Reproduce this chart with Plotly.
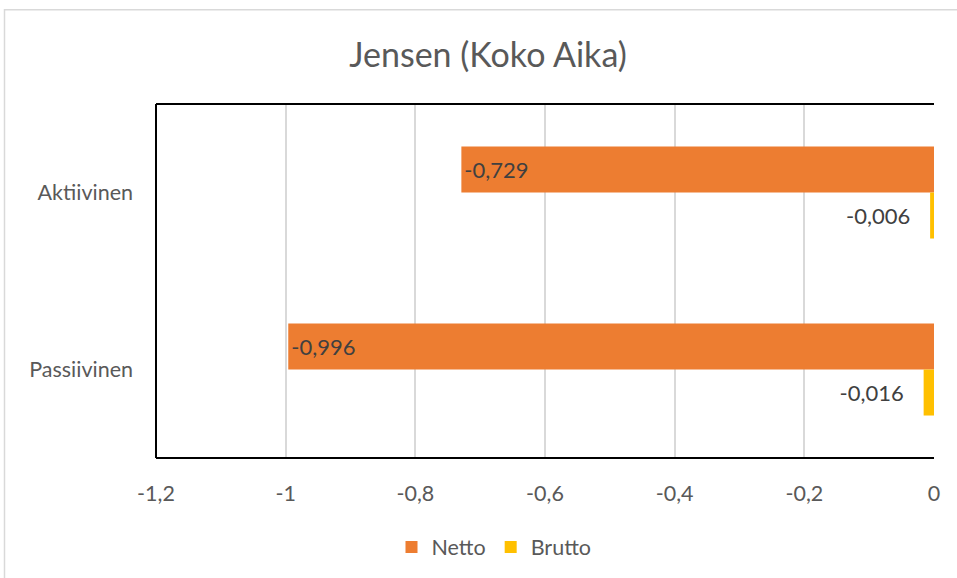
import plotly.graph_objects as go

categories = ["Aktiivinen", "Passiivinen"]
netto = [-0.729, -0.996]
brutto = [-0.006, -0.016]
tick_vals = [-1.2, -1.0, -0.8, -0.6, -0.4, -0.2, 0.0]
tick_text = ["-1,2", "-1", "-0,8", "-0,6", "-0,4", "-0,2", "0"]
title_text = "Jensen (Koko Aika)"

def fmt(v):
    return f"{v:.3f}".replace(".", ",")

FONT = "Lato"
TXT = "#595959"
LBL = "#404040"
FS = 21.5

fig = go.Figure()
fig.add_trace(go.Bar(
    y=categories, x=netto, name="Netto", orientation="h",
    marker=dict(color="#ED7D31", line=dict(width=0)),
    text=[fmt(v) for v in netto], textposition="inside", insidetextanchor="end",
    textfont=dict(family=FONT, size=22, color=LBL), cliponaxis=False,
))
fig.add_trace(go.Bar(
    y=categories, x=brutto, name="Brutto", orientation="h",
    marker=dict(color="#FFC000", line=dict(width=0)),
    text=[fmt(v) + "\u00a0\u00a0\u00a0" for v in brutto], textposition="outside",
    textfont=dict(family=FONT, size=22, color=LBL), cliponaxis=False,
))

L, R, T, B = 156, 934, 104, 459
W, H = 957, 578
pw, ph = R - L, B - T

def px_x(x):
    return (x - L) / pw

def px_y(y):
    return (B - y) / ph

shapes = [
    dict(type="rect", xref="paper", yref="paper",
         x0=px_x(4.5), x1=px_x(1000), y0=px_y(640), y1=px_y(9.5),
         line=dict(color="#D9D9D9", width=1.5), layer="below"),
    dict(type="line", xref="paper", yref="paper", x0=0, x1=1, y0=1, y1=1,
         line=dict(color="#000000", width=2)),
    dict(type="line", xref="paper", yref="paper", x0=0, x1=0, y0=0, y1=1,
         line=dict(color="#000000", width=2)),
    dict(type="line", xref="paper", yref="paper", x0=0, x1=1, y0=0, y1=0,
         line=dict(color="#000000", width=2)),
]

fig.update_layout(
    width=W, height=H,
    margin=dict(l=L, r=W - R, t=T, b=H - B),
    paper_bgcolor="white", plot_bgcolor="white",
    barmode="group", bargap=0.48, bargroupgap=0,
    title=dict(text=title_text, x=488 / W, xanchor="center", y=1 - 55 / H, yanchor="middle",
               font=dict(family=FONT, size=34, color=TXT)),
    font=dict(family=FONT, size=FS, color=TXT),
    showlegend=True,
    legend=dict(orientation="h", x=px_x(494), xanchor="center", y=px_y(547), yanchor="middle",
                font=dict(family=FONT, size=FS, color=TXT), itemwidth=30,
                traceorder="normal"),
    shapes=shapes,
    xaxis=dict(range=[-1.2, 0], tickvals=tick_vals, ticktext=tick_text,
               showgrid=True, gridcolor="#D9D9D9", gridwidth=2,
               zeroline=False, showline=False, ticks="",
               ticklabelstandoff=20,
               tickfont=dict(family=FONT, size=FS, color=TXT)),
    yaxis=dict(categoryorder="array", categoryarray=categories, autorange="reversed",
               showgrid=False, zeroline=False, showline=False, ticks="",
               ticklabelstandoff=22,
               tickfont=dict(family=FONT, size=FS, color=TXT)),
)

fig.write_html("out.html")
